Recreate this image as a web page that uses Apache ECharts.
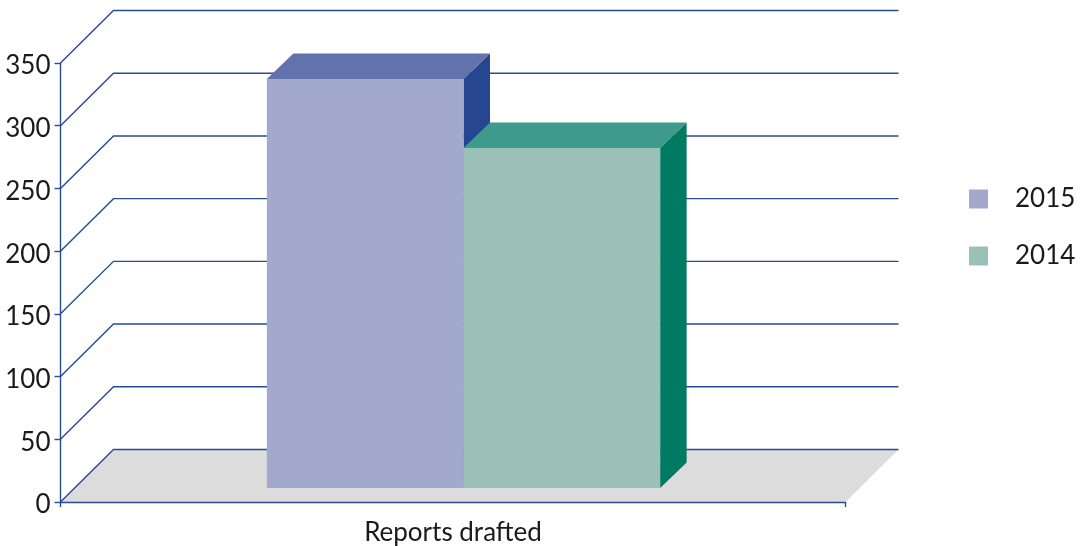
<!DOCTYPE html>
<html><head><meta charset="utf-8">
<style>html,body{margin:0;padding:0;background:#fff}#c{width:1083px;height:546px}</style>
<script src="https://cdn.jsdelivr.net/npm/echarts@6/dist/echarts.min.js"></script>
</head><body><div id="c"></div>
<script>
const categories = ['Reports drafted'];
const yTicks = [0, 50, 100, 150, 200, 250, 300, 350];
const values2015 = [326];
const values2014 = [271];

const FONT = 'Lato, "Noto Sans", sans-serif';
const TEXT = '#1a1a1a', LINE = '#2a4a97';
const WALL = 53, WALL_Y = 52.5, BAR_DX = 26.5, BAR_DY = 25.5, BAR_FRONT = 14, BAR_SHIFT = 10.5, BAR_RATIO = 0.2505;

function poly(points, fill) {
  return { type: 'polygon', shape: { points }, style: { fill, stroke: null } };
}
function floorItem(params, api) {
  const a = api.coord([0, 0]), w = api.size([1, 0])[0];
  const x0 = a[0] - w / 2, x1 = a[0] + w / 2, y = a[1];
  return poly([[x0, y], [x0 + WALL, y - WALL_Y], [x1 + WALL, y - WALL_Y], [x1, y]], '#dcdcdc');
}
function wallItem(params, api) {
  const a = api.coord([0, api.value(1)]), w = api.size([1, 0])[0];
  const x0 = a[0] - w / 2, x1 = a[0] + w / 2, y = a[1];
  return {
    type: 'polyline',
    shape: { points: [[x0, y], [x0 + WALL, y - WALL_Y], [x1 + WALL, y - WALL_Y]] },
    style: { fill: null, stroke: LINE, lineWidth: 1.4 }
  };
}
function barItem(side, front, top, right) {
  return function (params, api) {
    const c = api.coord([0, api.value(1)]), b = api.coord([0, 0]), w = api.size([1, 0])[0];
    const bw = w * BAR_RATIO, mid = c[0] + BAR_SHIFT;
    const x0 = side < 0 ? mid - bw : mid, x1 = x0 + bw;
    const yb = b[1] - BAR_FRONT, yt = c[1] - BAR_FRONT, dx = BAR_DX, dy = BAR_DY;
    return {
      type: 'group',
      children: [
        poly([[x1, yt], [x1 + dx, yt - dy], [x1 + dx, yb - dy], [x1, yb]], right),
        poly([[x0, yt], [x0 + dx, yt - dy], [x1 + dx, yt - dy], [x1, yt]], top),
        poly([[x0, yt], [x1, yt], [x1, yb], [x0, yb]], front)
      ]
    };
  };
}

const chart = echarts.init(document.getElementById('c'), null, { renderer: 'canvas' });
chart.setOption({
  animation: false,
  backgroundColor: '#fff',
  textStyle: { fontFamily: FONT },
  grid: { left: 60.5, top: 63, width: 785, height: 439, containLabel: false },
  legend: {
    data: ['2015', '2014'],
    orient: 'vertical',
    left: 969, top: 186, padding: 0,
    itemWidth: 19, itemHeight: 19, itemGap: 31, icon: 'rect',
    textStyle: { fontFamily: FONT, fontSize: 26, color: TEXT, padding: [0, 0, 0, 22] },
    selectedMode: false
  },
  xAxis: {
    type: 'category', data: categories, z: 4,
    axisLine: { lineStyle: { color: LINE, width: 1.4 } },
    axisTick: { show: true, length: 5, alignWithLabel: false, lineStyle: { color: LINE, width: 1.4 } },
    axisLabel: { fontFamily: FONT, fontSize: 26, color: TEXT, margin: 18 },
    splitLine: { show: false }
  },
  yAxis: {
    type: 'value', min: 0, max: 350, interval: 50, z: 4,
    axisLine: { show: true, lineStyle: { color: LINE, width: 1.4 } },
    axisTick: { show: true, length: 6, lineStyle: { color: LINE, width: 1.4 } },
    axisLabel: { fontFamily: FONT, fontSize: 26, color: TEXT, margin: 10, verticalAlign: 'top', lineHeight: 6 },
    splitLine: { show: false }
  },
  series: [
    { name: 'floor', type: 'custom', silent: true, z: 1, renderItem: floorItem, data: [[0, 0]] },
    { name: 'walls', type: 'custom', silent: true, z: 2, renderItem: wallItem, data: yTicks.map(v => [0, v]) },
    { name: '2015', type: 'custom', z: 3, itemStyle: { color: '#a3a9cd' },
      renderItem: barItem(-1, '#a3a9cd', '#6272ad', '#264692'), data: values2015.map((v, i) => [i, v]) },
    { name: '2014', type: 'custom', z: 3, itemStyle: { color: '#9bc1b7' },
      renderItem: barItem(1, '#9bc1b7', '#3e9a8a', '#007a63'), data: values2014.map((v, i) => [i, v]) }
  ]
});
</script></body></html>
